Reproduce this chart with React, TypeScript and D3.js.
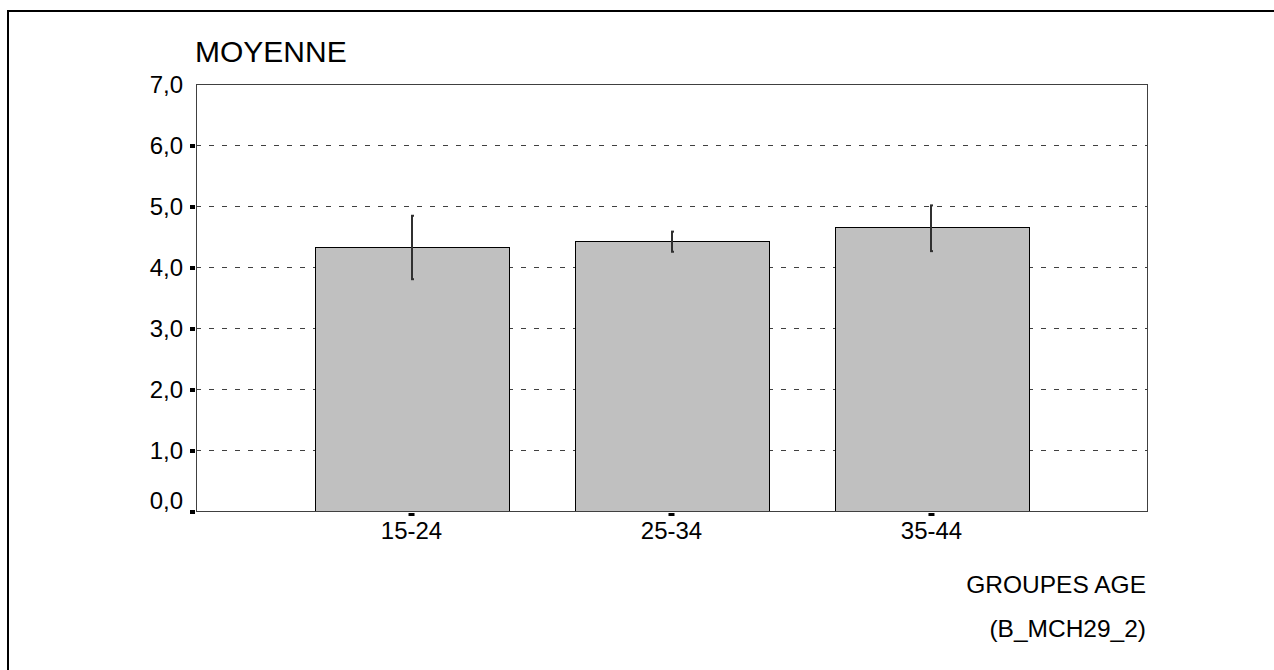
import React from 'react';
import * as d3 from 'd3';

// age groups and mean scores with confidence intervals
const categories = ['15-24', '25-34', '35-44'];
const means = [4.32, 4.43, 4.66];
const upper = [4.84, 4.58, 5.01];
const lower = [3.8, 4.25, 4.26];
const yTicks = [0, 1, 2, 3, 4, 5, 6, 7];

const W = 1274;
const H = 670;
const plot = { left: 196, right: 1147, top: 84, bottom: 511 };
const font = '"Liberation Sans", Arial, sans-serif';

const App: React.FC = () => {
  const x = d3
    .scaleBand<string>()
    .domain(categories)
    .range([plot.left, plot.right])
    .paddingInner(0.254)
    .paddingOuter(0.456);

  const y = d3.scaleLinear().domain([0, 7]).range([plot.bottom, plot.top]);
  const fmt = (v: number) => d3.format('.1f')(v).replace('.', ',');

  return (
    <svg
      width={W}
      height={H}
      style={{ position: 'absolute', left: 0, top: 0, background: '#fff', overflow: 'hidden' }}
    >
      {/* outer frame, only top and left edges are in view */}
      <line x1={8} x2={W} y1={11} y2={11} stroke="#000" strokeWidth={2} />
      <line x1={8} x2={8} y1={10} y2={H} stroke="#000" strokeWidth={2} />

      {/* gridlines */}
      {yTicks
        .filter((t) => t > 0 && t < 7)
        .map((t) => (
          <line
            key={'g' + t}
            x1={plot.left}
            x2={plot.right}
            y1={Math.round(y(t)) + 0.5}
            y2={Math.round(y(t)) + 0.5}
            stroke="#404040"
            strokeDasharray="5,8"
          />
        ))}

      {/* bars */}
      {categories.map((c, i) => (
        <rect
          key={'b' + c}
          x={Math.round(x(c)!) + 0.5}
          y={Math.round(y(means[i])) + 0.5}
          width={Math.round(x.bandwidth())}
          height={Math.round(y(0) - y(means[i]))}
          fill="#c0c0c0"
          stroke="#000"
          strokeWidth={1}
        />
      ))}

      {/* error bars */}
      {categories.map((c, i) => {
        const cx = Math.round(x(c)! + x.bandwidth() / 2);
        return (
          <g key={'e' + c} stroke="#303030">
            <line x1={cx} x2={cx} y1={y(upper[i])} y2={y(lower[i])} strokeWidth={2} />
            <line x1={cx - 1} x2={cx + 2} y1={y(upper[i])} y2={y(upper[i])} strokeWidth={2} />
            <line x1={cx - 1} x2={cx + 2} y1={y(lower[i])} y2={y(lower[i])} strokeWidth={2} />
          </g>
        );
      })}

      {/* plot border */}
      <rect
        x={plot.left + 0.5}
        y={plot.top + 0.5}
        width={plot.right - plot.left}
        height={plot.bottom - plot.top}
        fill="none"
        stroke="#404040"
        strokeWidth={1}
      />

      {/* y axis ticks and labels */}
      {yTicks.map((t) => (
        <g key={'y' + t}>
          {t < 7 && <rect x={190} y={Math.round(y(t)) - 1} width={5} height={4} fill="#000" />}
          <text
            x={183}
            y={t === 0 ? y(t) - 2 : y(t) + 9}
            textAnchor="end"
            fontFamily={font}
            fontSize={24}
            fill="#000"
          >
            {fmt(t)}
          </text>
        </g>
      ))}

      {/* x axis ticks and labels */}
      {categories.map((c) => {
        const cx = x(c)! + x.bandwidth() / 2;
        return (
          <g key={'x' + c}>
            <rect x={cx - 3} y={plot.bottom + 2} width={6} height={3} fill="#000" />
            <text x={cx} y={539} textAnchor="middle" fontFamily={font} fontSize={24} fill="#000">
              {c}
            </text>
          </g>
        );
      })}

      <text x={195} y={62} fontFamily={font} fontSize={30} fill="#000">
        MOYENNE
      </text>
      <text x={1146} y={593} textAnchor="end" fontFamily={font} fontSize={24.5} fill="#000">
        GROUPES AGE
      </text>
      <text x={1146} y={637} textAnchor="end" fontFamily={font} fontSize={24.5} fill="#000">
        (B_MCH29_2)
      </text>
    </svg>
  );
};

export default App;
